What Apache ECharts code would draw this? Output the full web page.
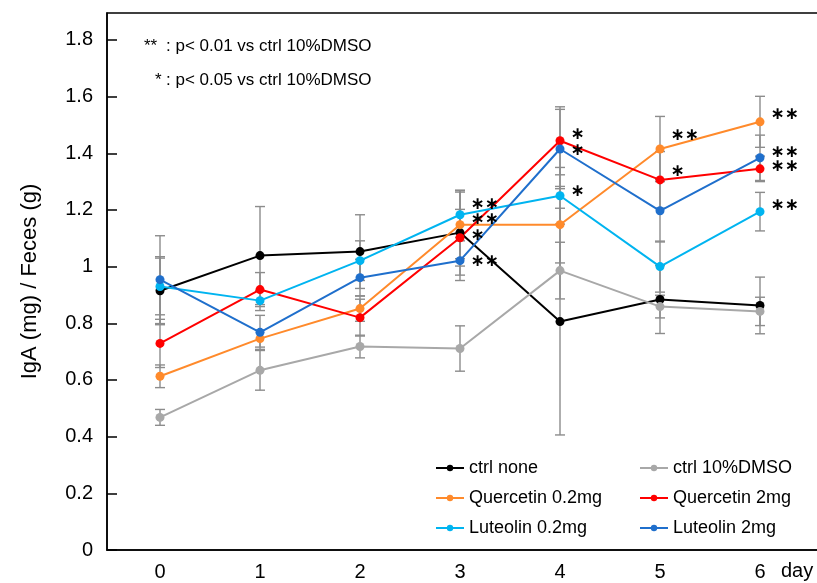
<!DOCTYPE html>
<html>
<head>
<meta charset="utf-8">
<script src="https://cdn.jsdelivr.net/npm/echarts@6/dist/echarts.min.js"></script>
<style>
  html, body { margin: 0; padding: 0; background: #fff; }
  #main { width: 817px; height: 583px; }
</style>
</head>
<body>
<div id="main"></div>
<script>
const days = [0, 1, 2, 3, 4, 5, 6]
const yTicks = [0, 0.2, 0.4, 0.6, 0.8, 1, 1.2, 1.4, 1.6, 1.8]

const ctrlNone = [0.915, 1.039, 1.053, 1.12, 0.806, 0.884, 0.863]
const errNone = [0.12, 0.173, 0.13, 0.15, 0.4, 0.12, 0.1]
const ctrlDmso = [0.468, 0.634, 0.718, 0.711, 0.986, 0.859, 0.842]
const errDmso = [0.028, 0.07, 0.04, 0.08, 0.1, 0.04, 0.05]
const q02 = [0.613, 0.746, 0.852, 1.148, 1.148, 1.415, 1.511]
const errQ02 = [0.04, 0.03, 0.045, 0.12, 0.135, 0.115, 0.09]
const q2 = [0.729, 0.919, 0.82, 1.102, 1.444, 1.306, 1.345]
const errQ2 = [0.085, 0.06, 0.065, 0.1, 0.12, 0.1, 0.045]
const l02 = [0.93, 0.88, 1.021, 1.183, 1.25, 1.0, 1.194]
const errL02 = [0.1, 0.035, 0.07, 0.08, 0.1, 0.09, 0.068]
const l2 = [0.954, 0.768, 0.961, 1.021, 1.415, 1.197, 1.384]
const errL2 = [0.155, 0.06, 0.065, 0.07, 0.14, 0.11, 0.08]

// significance marks vs ctrl 10%DMSO
const starsNone = ['', '', '', '', '', '', '']
const starsDmso = ['', '', '', '', '', '', '']
const starsQ02 = ['', '', '', '**', '', '**', '**']
const starsQ2 = ['', '', '', '*', '*', '*', '**']
const starsL02 = ['', '', '', '**', '*', '', '**']
const starsL2 = ['', '', '', '**', '*', '', '**']

const FONT = 'Liberation Sans'

// vertical nudge (px) of each star label so they don't pile up
const starNudge = {
  'Quercetin 0.2mg': { 3: -5, 5: -13, 6: -7 },
  'Quercetin 2mg': { 3: -2, 4: -6, 5: -8, 6: -2 },
  'Luteolin 0.2mg': { 3: -10, 4: -4, 6: -6 },
  'Luteolin 2mg': { 3: 1, 4: 2, 6: -5 }
}

const groups = [
  { name: 'ctrl none', color: '#000000', vals: ctrlNone, errs: errNone, stars: starsNone },
  { name: 'ctrl 10%DMSO', color: '#a8a8a8', vals: ctrlDmso, errs: errDmso, stars: starsDmso },
  { name: 'Quercetin 0.2mg', color: '#ff8a2b', vals: q02, errs: errQ02, stars: starsQ02 },
  { name: 'Quercetin 2mg', color: '#ff0000', vals: q2, errs: errQ2, stars: starsQ2 },
  { name: 'Luteolin 0.2mg', color: '#00b4f0', vals: l02, errs: errL02, stars: starsL02 },
  { name: 'Luteolin 2mg', color: '#1f6fcc', vals: l2, errs: errL2, stars: starsL2 }
]

function errorSeries(g) {
  return {
    type: 'custom',
    silent: true,
    z: 1,
    data: days.map((d, i) => [d, g.vals[i] - g.errs[i], g.vals[i] + g.errs[i]]),
    renderItem: function (params, api) {
      const lo = api.coord([api.value(0), api.value(1)])
      const hi = api.coord([api.value(0), api.value(2)])
      const cap = 5
      const style = { stroke: '#8c8c8c', lineWidth: 1.4 }
      return {
        type: 'group',
        children: [
          { type: 'line', shape: { x1: lo[0], y1: lo[1], x2: hi[0], y2: hi[1] }, style: style },
          { type: 'line', shape: { x1: lo[0] - cap, y1: lo[1], x2: lo[0] + cap, y2: lo[1] }, style: style },
          { type: 'line', shape: { x1: hi[0] - cap, y1: hi[1], x2: hi[0] + cap, y2: hi[1] }, style: style }
        ]
      }
    }
  }
}

function lineSeries(g) {
  const nudge = starNudge[g.name] || {}
  return {
    name: g.name,
    type: 'line',
    z: 3,
    symbol: 'circle',
    symbolSize: 9,
    itemStyle: { color: g.color },
    lineStyle: { color: g.color, width: 2 },
    data: days.map((d, i) => {
      const s = g.stars[i]
      const item = { value: [d, g.vals[i]] }
      if (s) {
        item.label = {
          show: true,
          position: 'right',
          distance: 6,
          offset: [0, nudge[d] || -4],
          formatter: s.replace(/\*/g, '\u2217'),
          fontFamily: 'DejaVu Sans',
          fontWeight: 'bold',
          fontSize: 17,
          color: '#000'
        }
      }
      return item
    })
  }
}

const chart = echarts.init(document.getElementById('main'))

const option = {
  animation: false,
  backgroundColor: '#fff',
  grid: {
    left: 107, top: 13, width: 810, bottom: 33,
    outerBoundsMode: 'none',
    containLabel: false,
    show: true, borderColor: '#000', borderWidth: 1.5
  },
  xAxis: {
    type: 'value',
    min: -0.53, max: 7.57,
    splitLine: { show: false },
    axisLine: { onZero: false, lineStyle: { color: '#000', width: 1.5 } },
    axisTick: { show: false },
    axisLabel: {
      customValues: days,
      margin: 12,
      fontFamily: FONT, fontSize: 20, color: '#000'
    }
  },
  yAxis: {
    type: 'value',
    min: 0, max: 1.895,
    name: 'IgA (mg) / Feces (g)',
    nameLocation: 'middle',
    nameGap: 66,
    nameTextStyle: { fontFamily: FONT, fontSize: 22, color: '#000' },
    splitLine: { show: false },
    axisLine: { show: true, onZero: false, lineStyle: { color: '#000', width: 1.5 } },
    axisTick: { show: true, inside: true, length: 10, customValues: yTicks, lineStyle: { color: '#000', width: 1.5 } },
    axisLabel: {
      customValues: yTicks,
      margin: 14,
      formatter: v => String(+(+v).toFixed(1)),
      fontFamily: FONT, fontSize: 20, color: '#000'
    }
  },
  legend: [
    {
      left: 430, top: 453, orient: 'vertical',
      itemWidth: 28, itemHeight: 8, itemGap: 10,
      textStyle: { fontFamily: FONT, fontSize: 18, color: '#000', lineHeight: 20 },
      data: ['ctrl none', 'Quercetin 0.2mg', 'Luteolin 0.2mg']
    },
    {
      left: 634, top: 453, orient: 'vertical',
      itemWidth: 28, itemHeight: 8, itemGap: 10,
      textStyle: { fontFamily: FONT, fontSize: 18, color: '#000', lineHeight: 20 },
      data: ['ctrl 10%DMSO', 'Quercetin 2mg', 'Luteolin 2mg']
    }
  ],
  graphic: [
    { type: 'text', left: 144, top: 38, style: { text: '**', fontFamily: FONT, fontSize: 17, fill: '#000' } },
    { type: 'text', left: 166, top: 38, style: { text: ': p< 0.01 vs ctrl 10%DMSO', fontFamily: FONT, fontSize: 17, fill: '#000' } },
    { type: 'text', left: 155, top: 72, style: { text: '*', fontFamily: FONT, fontSize: 17, fill: '#000' } },
    { type: 'text', left: 166, top: 72, style: { text: ': p< 0.05 vs ctrl 10%DMSO', fontFamily: FONT, fontSize: 17, fill: '#000' } },
    { type: 'text', left: 781, top: 561, style: { text: 'day', fontFamily: FONT, fontSize: 20, fill: '#000' } }
  ],
  series: groups.map(errorSeries).concat(groups.map(lineSeries))
}

chart.setOption(option)
</script>
</body>
</html>
